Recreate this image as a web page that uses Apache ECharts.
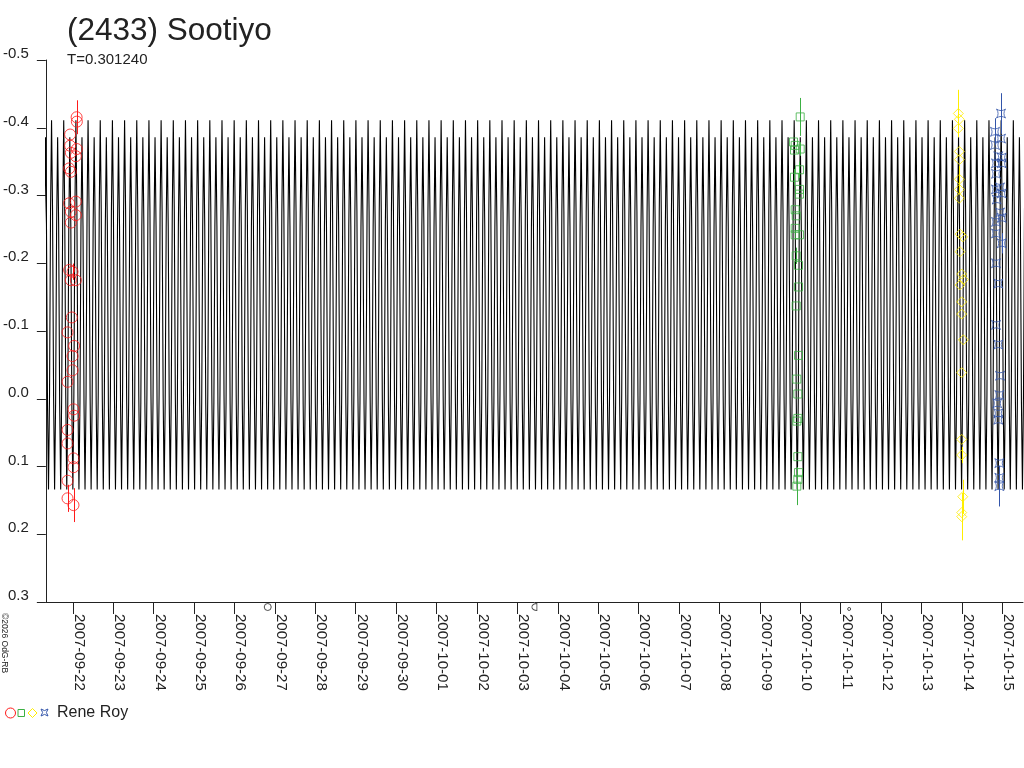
<!DOCTYPE html>
<html><head><meta charset="utf-8">
<script src="https://cdn.jsdelivr.net/npm/echarts@6/dist/echarts.min.js"></script>
<style>html,body{margin:0;padding:0;background:#fff}#c{width:1024px;height:768px}</style>
</head><body><div id="c"></div>
<script>
// ---- axis ticks (days since 2007-09-22 00:00 UT) ----
const xTickDays = [0,1,2,3,4,5,6,7,8,9,10,11,12,13,14,15,16,17,18,19,20,21,22,23];
const xTickLabels = ['2007-09-22','2007-09-23','2007-09-24','2007-09-25','2007-09-26','2007-09-27','2007-09-28','2007-09-29','2007-09-30','2007-10-01','2007-10-02','2007-10-03','2007-10-04','2007-10-05','2007-10-06','2007-10-07','2007-10-08','2007-10-09','2007-10-10','2007-10-11','2007-10-12','2007-10-13','2007-10-14','2007-10-15'];
const yTickValues = [-0.5,-0.4,-0.3,-0.2,-0.1,0,0.1,0.2,0.3];
const yTickLabels = ['-0.5','-0.4','-0.3','-0.2','-0.1','0.0','0.1','0.2','0.3'];
const xMin = -0.6675, xMax = 23.511;

// ---- model lightcurve: one rotation, period from the chart ----
const period = 0.301240;
const epoch = 0.076;
const shapePhase = [0, 0.0833, 0.1667, 0.25, 0.3333, 0.4167, 0.5, 0.5833, 0.6667, 0.75, 0.8333, 0.9167];
const shapeMag   = [-0.411, -0.276, -0.005, 0.134, 0.007, -0.255, -0.386, -0.255, 0.007, 0.134, -0.005, -0.276];

// ---- observations [day, mag, error] ----
const redPts = [
 [0.094,-0.4155,0.025],[0.100,-0.409,0],[-0.067,-0.390,0],[-0.067,-0.3735,0],[0.099,-0.3686,0],
 [-0.049,-0.363,0],[0.074,-0.358,0],[-0.091,-0.340,0],[-0.049,-0.335,0],[-0.091,-0.2885,0],
 [0.074,-0.291,0],[-0.049,-0.276,0],[0.074,-0.271,0],[-0.049,-0.260,0],[-0.091,-0.190,0],
 [-0.007,-0.1875,0.012],[-0.049,-0.175,0],[0.074,-0.175,0],[-0.025,-0.120,0],[-0.131,-0.098,0],
 [0.032,-0.078,0],[-0.007,-0.063,0],[-0.007,-0.042,0],[-0.131,-0.025,0],[0.017,0.0156,0],
 [0.032,0.025,0],[-0.131,0.046,0],[-0.131,0.066,0],[0.017,0.088,0],[0.017,0.101,0],
 [-0.131,0.121,0],[-0.131,0.147,0.02],[0.017,0.157,0.025]
];
const greenPts = [
 [17.998,-0.416,0.028],[17.832,-0.379,0],[17.874,-0.374,0],[17.857,-0.367,0],[17.998,-0.3686,0.01],
 [17.980,-0.338,0.012],[17.857,-0.327,0.012],[17.980,-0.309,0],[17.980,-0.302,0],[17.874,-0.279,0],
 [17.899,-0.270,0],[17.874,-0.2515,0],[17.874,-0.242,0],[17.980,-0.242,0],[17.899,-0.211,0.012],
 [17.956,-0.197,0],[17.956,-0.165,0],[17.899,-0.137,0],[17.956,-0.064,0],[17.915,-0.029,0],
 [17.940,-0.007,0],[17.940,0.029,0],[17.915,0.033,0],[17.940,0.0855,0],[17.956,0.109,0],
 [17.940,0.119,0],[17.915,0.129,0.028]
];
const yellowPts = [
 [21.911,-0.421,0.035],[21.936,-0.4125,0],[21.911,-0.399,0],[21.936,-0.365,0],[21.936,-0.353,0],
 [21.936,-0.324,0.02],[21.936,-0.309,0],[21.936,-0.296,0],[21.953,-0.243,0],[22.020,-0.239,0],
 [21.953,-0.217,0],[21.995,-0.184,0],[22.035,-0.176,0],[21.953,-0.168,0],[21.995,-0.143,0],
 [21.995,-0.125,0],[22.035,-0.087,0],[21.995,-0.0385,0],[21.995,0.060,0],[21.995,0.083,0.012],
 [22.020,0.1446,0.025],[21.995,0.168,0],[21.995,0.174,0.035]
];
const bluePts = [
 [22.967,-0.421,0.03],[22.818,-0.394,0.02],[22.967,-0.384,0],[22.818,-0.3745,0],[22.900,-0.358,0],
 [22.984,-0.356,0],[22.843,-0.3475,0],[22.984,-0.3475,0],[22.843,-0.332,0],[22.942,-0.312,0],
 [22.843,-0.309,0],[22.984,-0.303,0],[22.860,-0.294,0],[22.942,-0.275,0],[22.984,-0.267,0],
 [22.843,-0.261,0],[22.843,-0.244,0],[22.984,-0.2295,0.015],[22.843,-0.200,0],[22.900,-0.170,0],
 [22.843,-0.109,0],[22.900,-0.080,0],[22.942,-0.034,0],[22.925,-0.0055,0],[22.875,0.0067,0],
 [22.900,0.0215,0],[22.900,0.031,0],[22.925,0.095,0],[22.925,0.1166,0],[22.925,0.129,0.03]
];
// ---- moon phases (full, last quarter, new) ----
const moonDays = [4.823, 11.421, 19.209];
const moonMag  = [0.3074, 0.3074, 0.3103];

const FONT = 'Liberation Sans, Arial, sans-serif';
const INK = '#222';
const STAR = 'path://M0,0 Q5,3.5 10,0 Q6.5,5 10,10 Q5,6.5 0,10 Q3.5,5 0,0 Z';
const HALF = 'path://M5,0 A5,5 0 0 0 5,10 Z';

const curve = [];
const nStart = Math.floor((xMin - epoch) / period) - 1;
const nEnd = Math.ceil((xMax - epoch) / period) + 1;
for (let n = nStart; n <= nEnd; n++) {
  for (let i = 0; i < shapePhase.length; i++) {
    curve.push([epoch + (n + shapePhase[i]) * period, shapeMag[i]]);
  }
}

function errSeries(pts, color) {
  return {
    type: 'custom', silent: true, z: 4, animation: false,
    data: pts.filter(p => p[2] > 0),
    renderItem: function (params, api) {
      const x = api.value(0), y = api.value(1), e = api.value(2);
      const a = api.coord([x, y - e]), b = api.coord([x, y + e]);
      return { type: 'line', shape: { x1: Math.round(a[0]) + 0.5, y1: a[1], x2: Math.round(b[0]) + 0.5, y2: b[1] },
               style: { stroke: color, lineWidth: 1 } };
    }
  };
}
function ptSeries(pts, symbol, size, color) {
  return {
    type: 'scatter', symbol: symbol, symbolSize: size, z: 5, animation: false,
    data: pts.map(p => [p[0], p[1]]),
    itemStyle: { color: 'rgba(0,0,0,0)', borderColor: color, borderWidth: 1 }
  };
}

const RED = '#ff1a1a', GREEN = '#3cb043', YELLOW = '#ffee00', BLUE = '#3355aa';

const chart = echarts.init(document.getElementById('c'));
chart.setOption({
  backgroundColor: '#fff',
  animation: false,
  title: {
    text: '(2433) Sootiyo', subtext: 'T=0.301240', left: 62, top: 10, itemGap: 5,
    textStyle: { fontFamily: FONT, fontSize: 31.5, fontWeight: 'normal', color: INK },
    subtextStyle: { fontFamily: FONT, fontSize: 15, color: INK }
  },
  grid: { left: 45, right: 1, top: 60, bottom: 166, containLabel: false },
  xAxis: {
    type: 'value', min: xMin, max: xMax,
    axisLine: { onZero: false, lineStyle: { color: INK, width: 1 } },
    axisTick: { length: 12, customValues: xTickDays, lineStyle: { color: INK } },
    axisLabel: {
      customValues: xTickDays, rotate: -90, margin: 12, verticalAlign: 'bottom', lineHeight: 12,
      fontFamily: FONT, fontSize: 15, color: INK,
      formatter: v => xTickLabels[xTickDays.indexOf(Math.round(v))]
    },
    splitLine: { show: false }
  },
  yAxis: {
    type: 'value', inverse: true, min: -0.5, max: 0.3,
    axisLine: { show: true, onZero: false, lineStyle: { color: INK, width: 1 } },
    axisTick: { show: true, length: 9, customValues: yTickValues, lineStyle: { color: INK } },
    axisLabel: {
      customValues: yTickValues, margin: 17, verticalAlign: 'bottom', lineHeight: 12,
      fontFamily: FONT, fontSize: 15, color: INK,
      formatter: v => { const i = yTickValues.findIndex(t => Math.abs(t - v) < 1e-9); return i >= 0 ? yTickLabels[i] : ''; }
    },
    splitLine: { show: false }
  },
  series: [
    { type: 'line', data: curve, showSymbol: false, symbol: 'none', z: 2, animation: false, silent: true,
      lineStyle: { color: '#000', width: 1.1 } },
    errSeries(redPts, RED), errSeries(greenPts, GREEN), errSeries(yellowPts, YELLOW), errSeries(bluePts, BLUE),
    ptSeries(redPts, 'circle', 11, RED),
    ptSeries(greenPts, 'rect', 8, GREEN),
    ptSeries(yellowPts, 'diamond', 10, YELLOW),
    ptSeries(bluePts, STAR, 9, BLUE),
    { type: 'scatter', clip: false, z: 5, animation: false, silent: true,
      data: [
        { value: [moonDays[0], moonMag[0]], symbol: 'circle', symbolSize: 7 },
        { value: [moonDays[1], moonMag[1]], symbol: HALF, symbolSize: [5, 7] },
        { value: [moonDays[2], moonMag[2]], symbol: 'circle', symbolSize: 3 }
      ],
      itemStyle: { color: 'rgba(0,0,0,0)', borderColor: INK, borderWidth: 1 } }
  ],
  graphic: [
    { type: 'text', x: 9, y: 613, rotation: -Math.PI / 2,
      style: { text: '©2026 OdG-RB', font: '8.5px ' + FONT, fill: INK, textVerticalAlign: 'top' } },
    { type: 'circle', shape: { cx: 10.5, cy: 713, r: 5 }, style: { fill: 'none', stroke: RED, lineWidth: 1 } },
    { type: 'rect', shape: { x: 18, y: 709.5, width: 6.5, height: 7 }, style: { fill: 'none', stroke: GREEN, lineWidth: 1 } },
    { type: 'polygon', shape: { points: [[32.5, 708.5], [37, 713], [32.5, 717.5], [28, 713]] }, style: { fill: 'none', stroke: YELLOW, lineWidth: 1 } },
    { type: 'polygon', shape: { points: [[41, 709], [44.5, 710.6], [48, 709], [46.4, 712.5], [48, 716], [44.5, 714.4], [41, 716], [42.6, 712.5]] }, style: { fill: 'none', stroke: BLUE, lineWidth: 1 } },
    { type: 'text', x: 57, y: 713, style: { text: 'Rene Roy', font: '16px ' + FONT, fill: INK, textVerticalAlign: 'middle' } }
  ]
});
</script>
</body></html>
